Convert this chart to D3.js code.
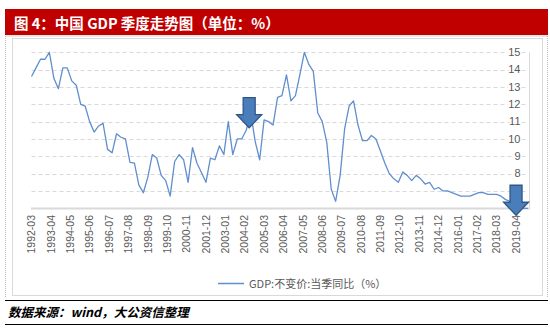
<!DOCTYPE html>
<html><head><meta charset="utf-8">
<script src="https://cdn.jsdelivr.net/npm/d3@7"></script>
<style>
html,body{margin:0;padding:0;background:#fff;}
svg{display:block;}
</style></head>
<body>
<svg id="c" width="550" height="332"></svg>
<script>
// ---- data ----
const startYear = 1992;
const gdpValues = [
  13.6, 14.1, 14.6, 14.6,
  15.0, 13.5, 12.9, 14.1,
  14.1, 13.35, 13.1, 12.0,
  11.9, 11.0, 10.4, 10.75,
  10.9, 9.4, 9.2, 10.3,
  10.1, 10.0, 8.65, 8.6,
  7.35, 6.9, 7.8, 9.1,
  8.9, 7.9, 7.6, 6.7,
  8.7, 9.1, 8.8, 7.5,
  9.5, 8.6, 8.05, 7.5,
  8.9, 8.8, 9.6, 9.1,
  11.0, 9.1, 10.0, 10.0,
  10.5, 11.5, 9.85, 8.8,
  11.1, 11.0, 10.8, 12.4,
  12.5, 13.7, 12.2, 12.5,
  13.7, 15.0, 14.3, 13.9,
  11.5, 11.0, 9.8, 7.1,
  6.4, 7.9, 10.6, 11.9,
  12.2, 10.8, 9.9, 9.9,
  10.2, 10.0, 9.3, 8.6,
  8.0, 7.7, 7.5, 8.1,
  7.9, 7.6, 7.9, 7.7,
  7.4, 7.5, 7.1, 7.2,
  7.0, 7.0, 6.9, 6.8,
  6.7, 6.7, 6.7, 6.8,
  6.9, 6.9, 6.8, 6.8,
  6.8, 6.7, 6.5, 6.4,
  6.4, 6.2, 6.0, 6.0
];
const xTickLabels = ["1992-03","1993-04","1994-05","1995-06","1996-07","1997-08","1998-09","1999-10","2000-11","2001-12","2003-01","2004-02","2005-03","2006-04","2007-05","2008-06","2009-07","2010-08","2011-09","2012-10","2013-11","2014-12","2016-01","2017-02","2018-03","2019-04"];
const yTicks = [6,7,8,9,10,11,12,13,14,15];
const yLabels = [6,8,9,10,11,12,13,14,15];
const arrowTargets = [{date:"2004-05", value:10.65},{date:"2019-04", value:5.6}];
const titleText = "图 4：中国 GDP 季度走势图（单位：%）";
const legendText = "GDP:不变价:当季同比（%）";
const sourceText = "数据来源：wind，大公资信整理";

// ---- build ----
const parseM = d3.timeParse("%Y-%m");
const data = gdpValues.map((v,i)=>({date:new Date(startYear + Math.floor(i/4), (i%4)*3+2, 1), value:v}));

const svg = d3.select("#c");
const W = 550;

// outer frame
svg.append("rect").attr("x",5).attr("y",9).attr("width",543).attr("height",26).attr("fill","#C00000");
svg.append("text").attr("x",14).attr("y",28.5).attr("fill","#fff")
  .attr("font-family","'Noto Sans CJK SC', sans-serif").attr("font-weight","bold").attr("font-size","14.5px")
  .text(titleText);
svg.append("line").attr("x1",5).attr("x2",548).attr("y1",36).attr("y2",36).attr("stroke","#d0d0d0");
svg.append("line").attr("x1",5.5).attr("x2",5.5).attr("y1",36).attr("y2",298).attr("stroke","#bbb").attr("stroke-dasharray","1,1");
svg.append("line").attr("x1",547.5).attr("x2",547.5).attr("y1",36).attr("y2",298).attr("stroke","#bbb").attr("stroke-dasharray","1,1");
// chart area border
svg.append("rect").attr("x",12.5).attr("y",38.5).attr("width",530).attr("height",257).attr("fill","none").attr("stroke","#d9d9d9");

const x = d3.scaleTime().domain([data[0].date, data[data.length-1].date]).range([31.5, 528]);
const y = d3.scaleLinear().domain([6,15]).range([208.3, 52.3]);

// gridlines
svg.append("g").selectAll("line").data(yTicks.filter(t=>t>6)).join("line")
  .attr("x1",31.5).attr("x2",528).attr("y1",d=>Math.round(y(d))+0.5).attr("y2",d=>Math.round(y(d))+0.5)
  .attr("stroke","#d9d9d9").attr("stroke-dasharray","4,3");
// right vertical line
svg.append("line").attr("x1",529.5).attr("x2",529.5).attr("y1",y(15)).attr("y2",y(6)).attr("stroke","#d9d9d9");
// bottom axis
svg.append("line").attr("x1",31).attr("x2",530).attr("y1",208.5).attr("y2",208.5).attr("stroke","#d9d9d9").attr("stroke-width",2);

// line
svg.append("path").datum(data)
  .attr("fill","none").attr("stroke","#5F8FCF").attr("stroke-width",1.3).attr("stroke-linejoin","round")
  .attr("d", d3.line().x(d=>x(d.date)).y(d=>y(d.value)));

// y labels
svg.append("g").selectAll("text").data(yLabels).join("text")
  .attr("x",520.5).attr("y",d=>y(d)).attr("dy","0.35em").attr("text-anchor","end")
  .attr("font-family","'Liberation Sans', Arial, sans-serif").attr("font-size","11px").attr("fill","#595959")
  .attr("stroke","#fff").attr("stroke-width",3).attr("paint-order","stroke")
  .text(d=>d);

// x labels
svg.append("g").selectAll("text").data(xTickLabels).join("text")
  .attr("transform",d=>`translate(${x(parseM(d))},215) rotate(-90)`)
  .attr("dy","0.35em").attr("text-anchor","end")
  .attr("font-family","'Liberation Sans', Arial, sans-serif").attr("font-size","10.5px").attr("fill","#595959")
  .text(d=>d);

// arrows
function arrow(tx, ty){
  const sw=6, hw=12.5, sh=17, hh=13;
  const p = [[tx-sw,ty-hh-sh],[tx+sw,ty-hh-sh],[tx+sw,ty-hh],[tx+hw,ty-hh],[tx,ty],[tx-hw,ty-hh],[tx-sw,ty-hh]];
  svg.append("path").attr("d","M"+p.map(q=>q.join(",")).join("L")+"Z")
    .attr("fill","#4A7EBB").attr("stroke","#2F5687").attr("stroke-width",1.3).attr("stroke-linejoin","miter");
}
arrowTargets.forEach(a=>arrow(x(parseM(a.date)), y(a.value)));

// legend
svg.append("line").attr("x1",218).attr("x2",244).attr("y1",283.5).attr("y2",283.5).attr("stroke","#5F8FCF").attr("stroke-width",1.5);
svg.append("text").attr("x",249).attr("y",287.5)
  .attr("font-family","'Noto Sans CJK SC', sans-serif").attr("font-size","11px").attr("fill","#595959")
  .text(legendText);

// source
svg.append("line").attr("x1",5).attr("x2",548).attr("y1",300.5).attr("y2",300.5).attr("stroke","#000").attr("stroke-width",1.2);
svg.append("text").attr("x",8).attr("y",317)
  .attr("font-family","'Noto Sans CJK SC', sans-serif").attr("font-weight","bold").attr("font-style","italic").attr("font-size","12.5px").attr("fill","#000")
  .attr("transform","skewX(0)")
  .text(sourceText);
svg.append("line").attr("x1",5).attr("x2",548).attr("y1",324.5).attr("y2",324.5).attr("stroke","#000").attr("stroke-width",1.2);
</script>
</body></html>
